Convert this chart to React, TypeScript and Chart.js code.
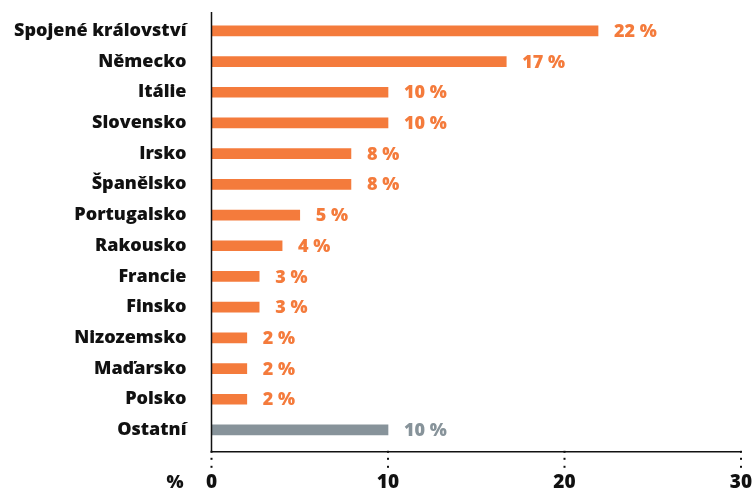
import React, { useEffect, useRef } from "react";
import { Chart, registerables } from "chart.js";

Chart.register(...registerables);

const categories = [
  "Spojené království",
  "Německo",
  "Itálie",
  "Slovensko",
  "Irsko",
  "Španělsko",
  "Portugalsko",
  "Rakousko",
  "Francie",
  "Finsko",
  "Nizozemsko",
  "Maďarsko",
  "Polsko",
  "Ostatní",
];
const values = [21.9, 16.7, 10, 10, 7.9, 7.9, 5, 4, 2.7, 2.7, 2, 2, 2, 10];
const valueLabels = ["22 %", "17 %", "10 %", "10 %", "8 %", "8 %", "5 %", "4 %", "3 %", "3 %", "2 %", "2 %", "2 %", "10 %"];
const xTicks = [0, 10, 20, 30];
const axisUnit = "%";

const ORANGE = "#F47B3C";
const GREY = "#87939A";
const colors = categories.map((c) => (c === "Ostatní" ? GREY : ORANGE));
const FONT = "'Open Sans', Lato, sans-serif";

export default function App() {
  const ref = useRef<HTMLCanvasElement>(null);
  useEffect(() => {
    document.body.style.margin = "0";
    const overlay = {
      id: "overlay",
      afterDraw(chart: any) {
        const { ctx, chartArea } = chart;
        const x = chart.scales.x;
        ctx.save();
        ctx.strokeStyle = "#111";
        ctx.lineWidth = 1.5;
        const axisY = chartArea.bottom + 6.5;
        ctx.beginPath();
        ctx.moveTo(chartArea.left, chartArea.top - 3.5);
        ctx.lineTo(chartArea.left, axisY);
        ctx.lineTo(chartArea.right, axisY);
        ctx.stroke();
        ctx.fillStyle = "#111";
        xTicks.forEach((t) => {
          const px = x.getPixelForValue(t);
          ctx.fillRect(px - 1, axisY - 1, 2, 2);
          ctx.fillRect(px - 1, axisY + 6, 2, 2);
          ctx.fillRect(px - 1, axisY + 14, 2, 2);
        });
        // value labels
        ctx.font = `800 18px ${FONT}`;
        ctx.textBaseline = "middle";
        ctx.textAlign = "left";
        const meta = chart.getDatasetMeta(0);
        meta.data.forEach((bar: any, i: number) => {
          ctx.fillStyle = colors[i];
          ctx.fillText(valueLabels[i], bar.x + 16, bar.y + 1);
        });
        // unit
        ctx.fillStyle = "#111";
        ctx.font = `800 18px ${FONT}`;
        ctx.textAlign = "right";
        ctx.fillText(axisUnit, chartArea.left - 28, 483);
        ctx.restore();
      },
    };
    const chart = new Chart(ref.current!, {
      type: "bar",
      data: {
        labels: categories,
        datasets: [
          {
            data: values,
            backgroundColor: colors,
            barThickness: 10,
          },
        ],
      },
      options: {
        indexAxis: "y",
        animation: false,
        responsive: false,
        layout: { padding: { top: 15.5, right: 13, left: 0, bottom: 0 } },
        plugins: { legend: { display: false }, tooltip: { enabled: false } },
        scales: {
          x: {
            min: 0,
            max: 30,
            afterBuildTicks: (s: any) => {
              s.ticks = xTicks.map((v) => ({ value: v }));
            },
            grid: { display: false, drawTicks: false },
            border: { display: false },
            ticks: {
              padding: 26,
              color: "#111",
              font: { family: FONT, weight: "800", size: 19 },
            },
            afterFit: (s: any) => {
              s.height = 46.7;
              s.paddingLeft = 0;
              s.paddingRight = 0;
            },
          },
          y: {
            grid: { display: false, drawTicks: false },
            border: { display: false },
            ticks: {
              padding: 25,
              color: "#111",
              font: { family: FONT, weight: "800", size: 18 },
            },
            afterFit: (s: any) => {
              s.width = 211.5;
              s.paddingTop = 0;
              s.paddingBottom = 0;
            },
          },
        },
      },
      plugins: [overlay],
    });
    return () => chart.destroy();
  }, []);
  return (
    <div style={{ position: "fixed", left: 0, top: 0, width: 754, height: 492, background: "#fff" }}>
      <canvas ref={ref} width={754} height={492} style={{ width: 754, height: 492 }} />
    </div>
  );
}
